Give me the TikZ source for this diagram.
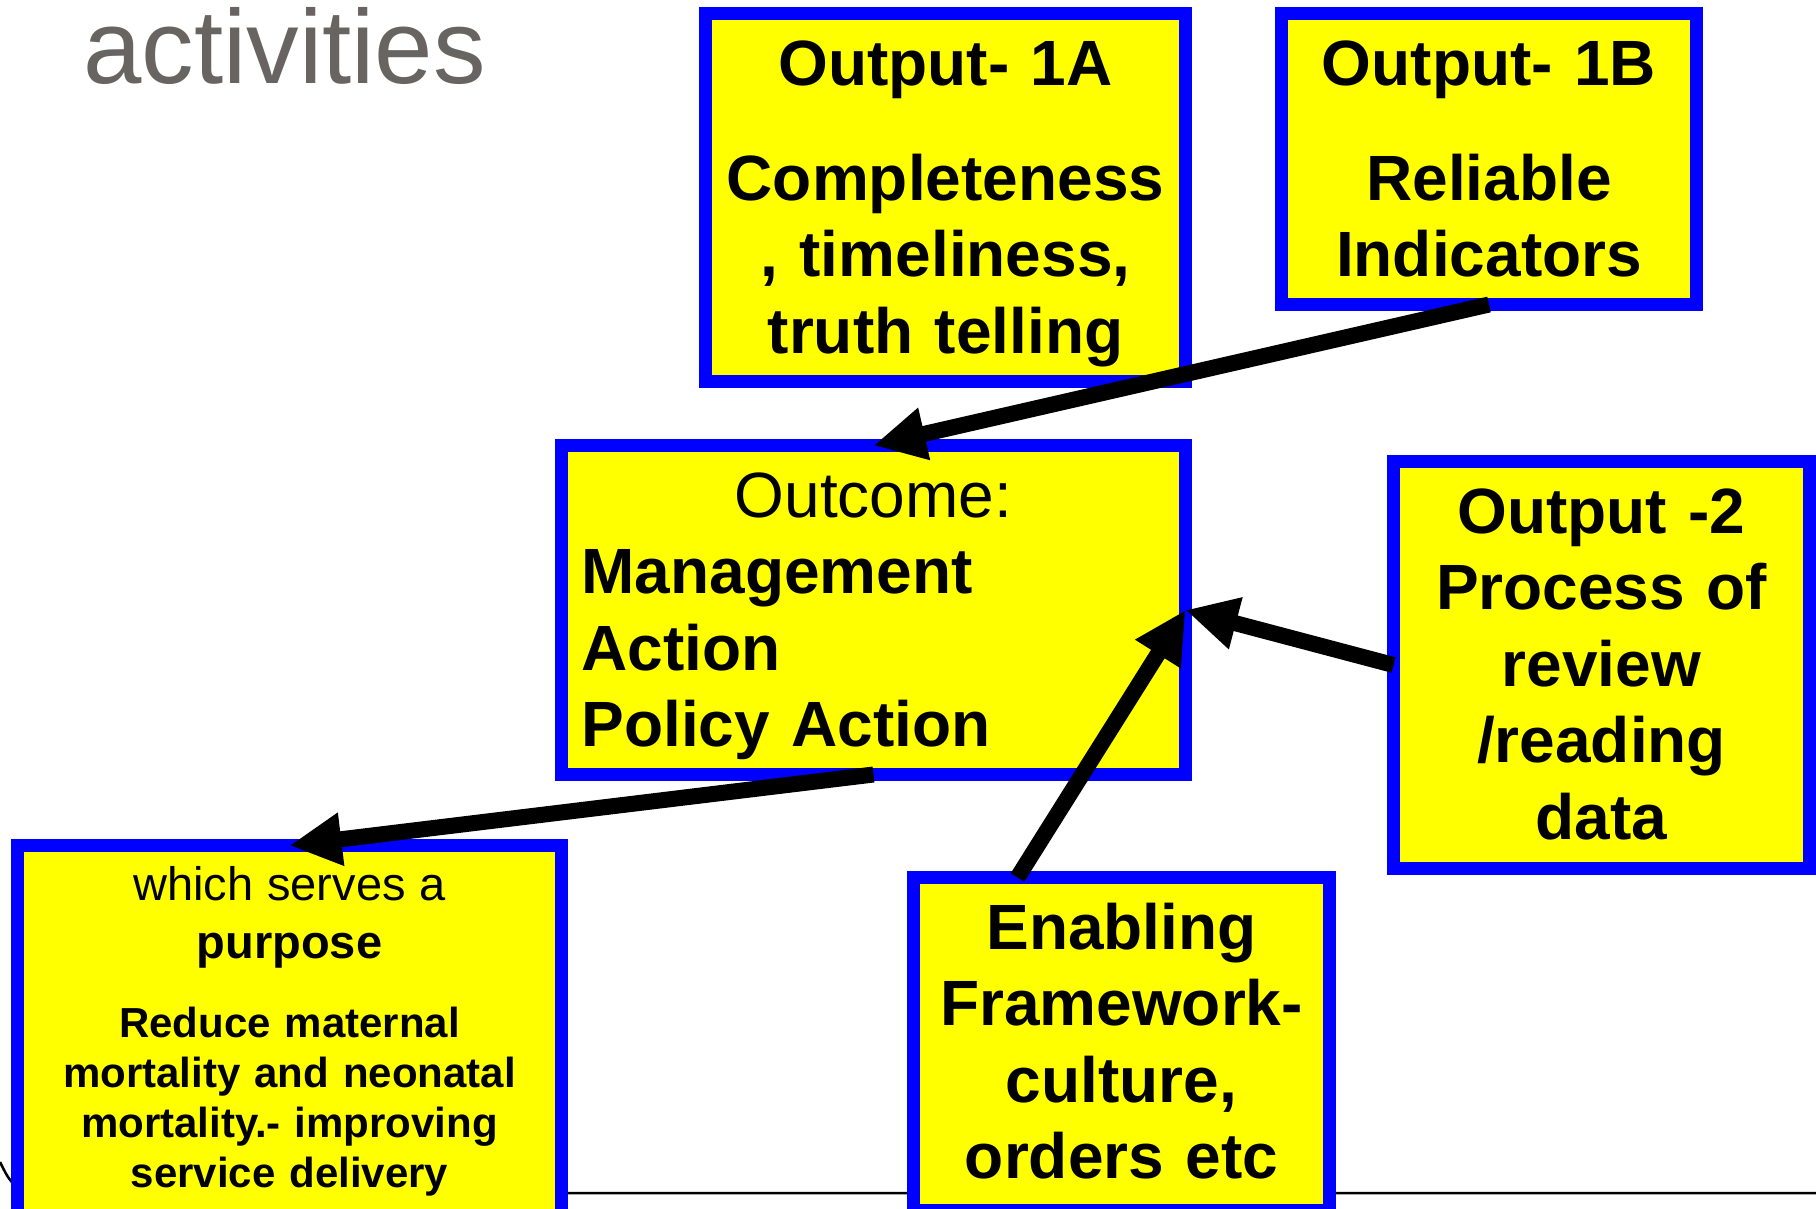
\documentclass[tikz,border=0pt]{standalone}
\usepackage{fontspec}
\setmainfont{Liberation Sans}
\usepackage{tikz}
\usetikzlibrary{arrows.meta,positioning,calc}

\definecolor{panelyellow}{RGB}{255,255,0}
\definecolor{panelblue}{RGB}{0,0,255}
\definecolor{headgray}{RGB}{104,100,98}

\begin{document}
\begin{tikzpicture}[
    x=1pt, y=-1pt,
    panel/.style={draw=panelblue, fill=panelyellow, line width=13pt, inner sep=0pt, outer sep=0pt,
        anchor=base, align=center, text height=71.5pt, font=\bfseries\fontsize{64}{76.5}\selectfont},
    link/.style={-{Triangle[length=52pt, width=50pt]}, line width=16pt}
]
\useasboundingbox (0,0) rectangle (1816,1208);

% rule along the bottom, behind the boxes
\draw[line width=2.5pt] (0,1162) .. controls (8,1178) and (14,1193) .. (40,1193) -- (1816,1193);

\node[anchor=base west, inner sep=0pt, text=headgray, font=\fontsize{105}{105}\selectfont] (heading) at (83,83) {activities};

\node[panel, text width=480pt, text depth=296.5pt] (out1a) at (945.5,85)
    {Output- 1A\\[38.5pt]Completeness\\, timeliness,\\truth telling};
\node[panel, text width=415pt, text depth=219.5pt] (out1b) at (1489,85)
    {Output- 1B\\[38.5pt]Reliable\\Indicators};
\node[panel, align=left, inner xsep=20pt, text width=584pt, text depth=257.5pt] (outcome) at (873.5,517)
    {\makebox[\linewidth]{\mdseries Outcome:}\\Management\\Action\\Policy Action};
\node[panel, text width=416pt, text depth=335.5pt] (out2) at (1601.5,533)
    {Output -2\\Process of\\review\\/reading\\data};
\node[panel, text width=416pt, text depth=261pt] (enabling) at (1121.5,949)
    {Enabling\\Framework-\\culture,\\orders etc};
\node[panel, text width=544pt, text height=54.5pt, text depth=315pt, font=\bfseries\fontsize{42}{50.3}\selectfont] (purpose) at (289.5,900)
    {{\mdseries\fontsize{47}{58}\selectfont which serves a}\\[7.7pt]
     {\fontsize{47}{58}\selectfont purpose}\\[28.7pt]
     Reduce maternal\\mortality and neonatal\\mortality.- improving\\service delivery};

\draw[link] (out1b.south) -- (outcome.north);
\draw[link] (outcome.south) -- (purpose.north);
\draw[link] (out2.west) -- (outcome.east);
\draw[link] ($(enabling.north west)!0.25!(enabling.north east)$) -- (outcome.east);
\end{tikzpicture}
\end{document}
